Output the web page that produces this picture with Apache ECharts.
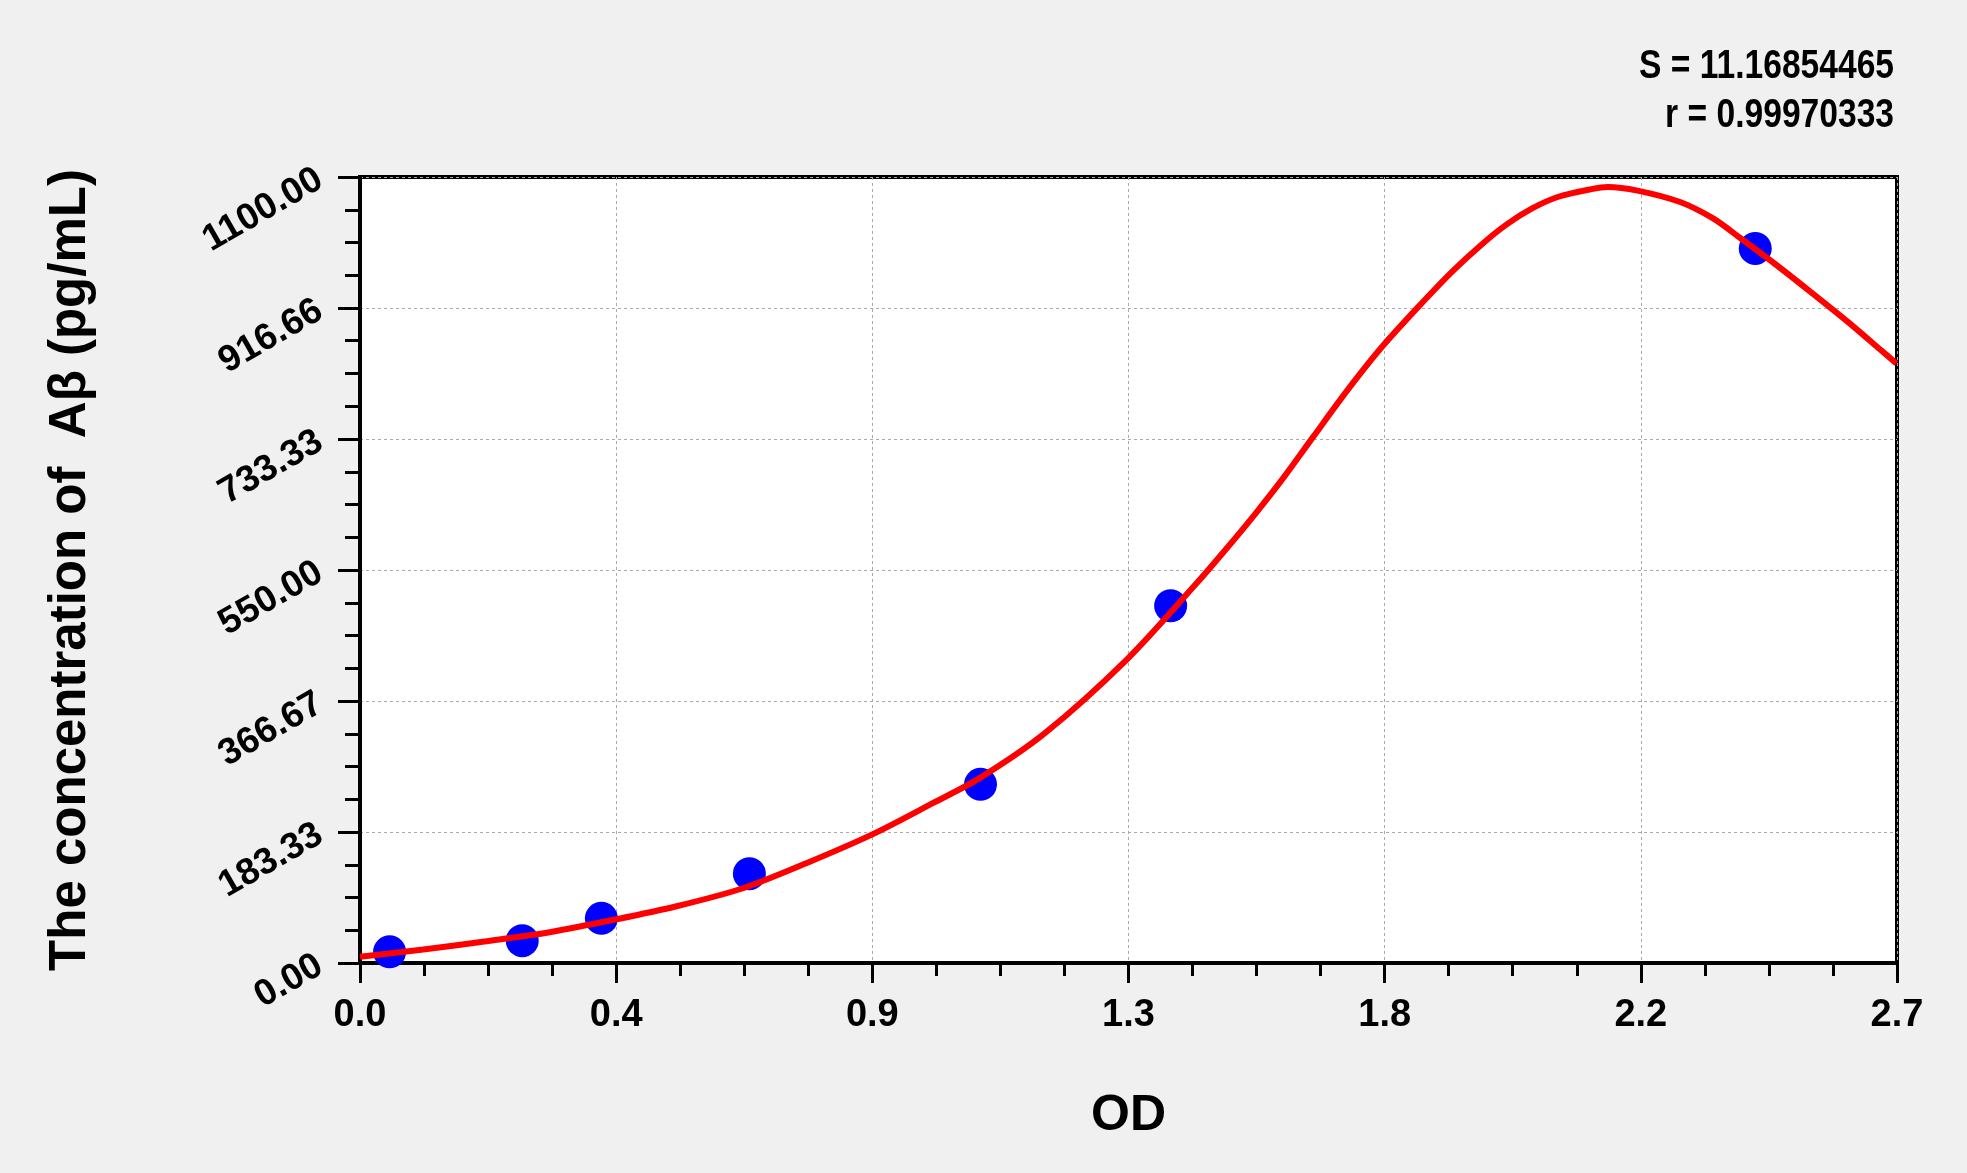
<!DOCTYPE html>
<html>
<head>
<meta charset="utf-8">
<title>Standard curve</title>
<script src="https://cdn.jsdelivr.net/npm/echarts@6/dist/echarts.min.js"></script>
<style>
  html, body { margin: 0; padding: 0; background: #f0f0f0; }
  #chart { width: 1967px; height: 1173px; }
</style>
</head>
<body>
<div id="chart"></div>
<script>
// standard points (OD, concentration)
var pointOD = [0.052, 0.285, 0.424, 0.684, 1.090, 1.424, 2.451];
var pointConc = [15.63, 31.25, 62.5, 125, 250, 500, 1000];

// fitted curve
var curveOD = [0.000, 0.111, 0.222, 0.333, 0.448, 0.556, 0.674, 0.785, 0.900, 1.007, 1.087,
  1.202, 1.346, 1.468, 1.520, 1.572, 1.623, 1.675, 1.734, 1.795, 1.867, 1.919, 1.971,
  2.015, 2.059, 2.104, 2.163, 2.192, 2.244, 2.319, 2.377, 2.424, 2.483, 2.547, 2.611,
  2.670, 2.699];
var curveConc = [8.7, 18.9, 30.5, 43.1, 60.8, 79.4, 105, 140, 180, 224, 258,
  321, 424, 530, 578, 628, 680, 737, 801, 862, 925, 968, 1006,
  1034, 1056, 1072, 1083, 1086, 1081, 1065, 1042, 1015, 980, 940, 899,
  859, 839];

var xTickLabels = ['0.0', '0.4', '0.9', '1.3', '1.8', '2.2', '2.7'];
var yTickLabels = ['0.00', '183.33', '366.67', '550.00', '733.33', '916.66', '1100.00'];

var statLines = ['S = 11.16854465', 'r = 0.99970333'];

var xStep = 2.7 / 6;
var yStep = 1100 / 6;

var myChart = echarts.init(document.getElementById('chart'));

var pts = pointOD.map(function (v, i) { return [v, pointConc[i]]; });
var curve = curveOD.map(function (v, i) { return [v, curveConc[i]]; });

var fontArial = '"Liberation Sans", Arial, sans-serif';

option = {
    backgroundColor: '#f0f0f0',
    animation: false,
    grid: {
        left: 360,
        right: 70,
        top: 177,
        bottom: 210,
        show: true,
        backgroundColor: '#ffffff',
        borderColor: '#000000',
        borderWidth: 4
    },
    graphic: [{
        type: 'text',
        x: 1894,
        y: 42,
        scaleX: 0.84,
        style: {
            text: statLines.join('\n'),
            align: 'right',
            fill: '#000',
            font: 'bold 40px ' + fontArial,
            lineHeight: 49
        }
    }],
    xAxis: {
        type: 'value',
        min: 0,
        max: 2.7,
        interval: xStep,
        name: 'OD',
        nameLocation: 'middle',
        nameGap: 128,
        nameTextStyle: {
            fontFamily: fontArial,
            fontWeight: 'bold',
            fontSize: 50,
            color: '#000'
        },
        axisLine: { lineStyle: { color: '#000', width: 3 } },
        axisTick: { show: true, length: 20, lineStyle: { color: '#000', width: 3 } },
        minorTick: { show: true, splitNumber: 4, length: 13, lineStyle: { color: '#000', width: 3 } },
        axisLabel: {
            margin: 34,
            fontFamily: fontArial,
            fontWeight: 'bold',
            fontSize: 38,
            color: '#000',
            formatter: function (v) { return xTickLabels[Math.round(v / xStep)]; }
        },
        splitLine: { show: true, lineStyle: { color: '#aaaaaa', width: 1, type: [3, 3] } }
    },
    yAxis: {
        type: 'value',
        min: 0,
        max: 1100,
        interval: yStep,
        name: 'The concentration of  A\u03b2 (pg/mL)',
        nameLocation: 'middle',
        nameGap: 264,
        nameTextStyle: {
            fontFamily: fontArial,
            fontWeight: 'bold',
            fontSize: 51,
            color: '#000'
        },
        axisLine: { lineStyle: { color: '#000', width: 3 } },
        axisTick: { show: true, length: 22, lineStyle: { color: '#000', width: 3 } },
        minorTick: { show: true, splitNumber: 4, length: 15, lineStyle: { color: '#000', width: 3 } },
        axisLabel: {
            margin: 40,
            rotate: 30,
            fontFamily: fontArial,
            fontWeight: 'bold',
            fontSize: 37,
            color: '#000',
            formatter: function (v) { return yTickLabels[Math.round(v / yStep)]; }
        },
        splitLine: { show: true, lineStyle: { color: '#aaaaaa', width: 1, type: [3, 3] } }
    },
    series: [{
        name: 'standards',
        type: 'scatter',
        symbol: 'circle',
        symbolSize: 33,
        itemStyle: { color: '#0000ff', opacity: 1 },
        z: 2,
        data: pts
    }, {
        name: 'fit',
        type: 'line',
        smooth: 0.3,
        showSymbol: false,
        lineStyle: { color: '#ff0000', width: 6 },
        z: 3,
        data: curve
    }]
};
myChart.setOption(option);
</script>
</body>
</html>
